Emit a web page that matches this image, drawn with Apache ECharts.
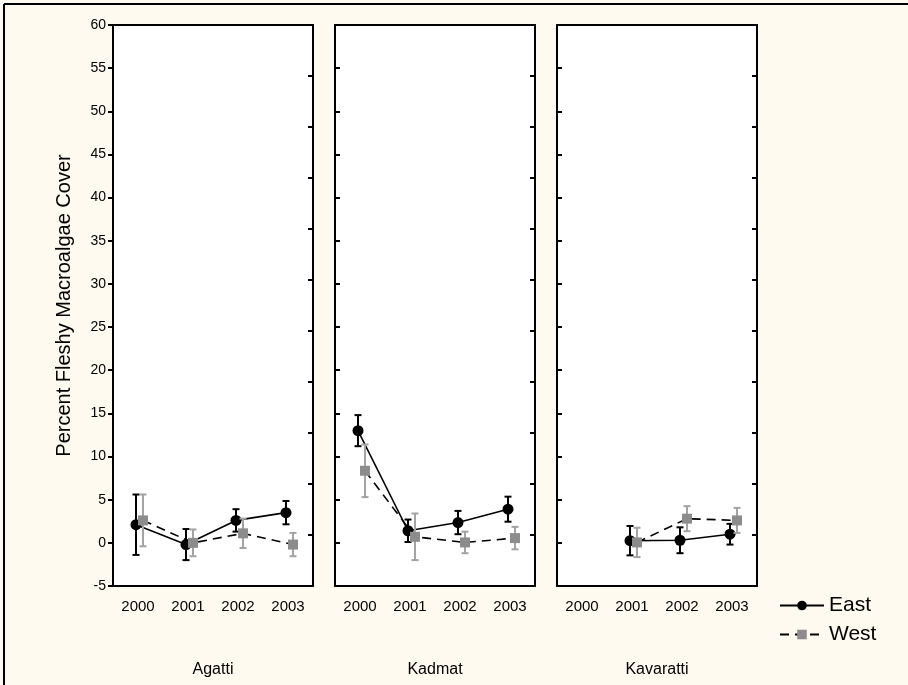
<!DOCTYPE html>
<html><head><meta charset="utf-8">
<script src="https://cdn.jsdelivr.net/npm/echarts@6/dist/echarts.min.js"></script>
<style>html,body{margin:0;padding:0;background:#fffaf0;}#c{width:908px;height:685px;}</style>
</head><body><div id="c"></div>
<script>
const years = ['2000', '2001', '2002', '2003'];
const sites = ['Agatti', 'Kadmat', 'Kavaratti'];
const yTicks = [-5, 0, 5, 10, 15, 20, 25, 30, 35, 40, 45, 50, 55, 60];

const eastAgatti = [2.1, -0.2, 2.6, 3.5];
const eastAgattiErr = [3.5, 1.8, 1.3, 1.35];
const eastKadmat = [13.0, 1.4, 2.35, 3.9];
const eastKadmatErr = [1.8, 1.3, 1.35, 1.45];
const eastKavaratti = [null, 0.25, 0.3, 1.0];
const eastKavarattiErr = [null, 1.7, 1.5, 1.2];

const westAgatti = [2.6, 0.0, 1.1, -0.2];
const westAgattiErr = [3.0, 1.55, 1.7, 1.35];
const westKadmat = [8.35, 0.7, 0.05, 0.55];
const westKadmatErr = [3.05, 2.7, 1.25, 1.3];
const westKavaratti = [null, 0.05, 2.8, 2.6];
const westKavarattiErr = [null, 1.7, 1.45, 1.45];

const eastMeans = [eastAgatti, eastKadmat, eastKavaratti];
const eastErrs = [eastAgattiErr, eastKadmatErr, eastKavarattiErr];
const westMeans = [westAgatti, westKadmat, westKavaratti];
const westErrs = [westAgattiErr, westKadmatErr, westKavarattiErr];

const FONT = '"Liberation Sans", Arial, sans-serif';
const chart = echarts.init(document.getElementById('c'));

const grids = [], xAxes = [], yAxes = [], series = [];
const PANEL_LEFT = 113, PANEL_STEP = 222, PANEL_W = 200, TOP = 25, H = 561;
const yMin = yTicks[0], yMax = yTicks[yTicks.length - 1];

function errRender(color) {
  return function (params, api) {
    const x = api.value(0), lo = api.value(1), hi = api.value(2);
    const a = api.coord([x, hi]), b = api.coord([x, lo]);
    const w = 3.5;
    const st = { stroke: color, lineWidth: 2 };
    return { type: 'group', children: [
      { type: 'line', shape: { x1: a[0], y1: a[1], x2: b[0], y2: b[1] }, style: st },
      { type: 'line', shape: { x1: a[0] - w, y1: a[1], x2: a[0] + w, y2: a[1] }, style: st },
      { type: 'line', shape: { x1: b[0] - w, y1: b[1], x2: b[0] + w, y2: b[1] }, style: st }
    ] };
  };
}

sites.forEach((site, p) => {
  const L = PANEL_LEFT + PANEL_STEP * p;
  const gAx = grids.length;
  grids.push({ left: L, top: TOP, width: PANEL_W, height: H, show: true, backgroundColor: '#ffffff', borderWidth: 0 });
  const lineSt = { color: '#000', width: 2 };
  xAxes.push({
    gridIndex: gAx, type: 'category', data: years, position: 'bottom', boundaryGap: true,
    axisLine: { onZero: false, lineStyle: lineSt }, axisTick: { inside: true, length: 5, alignWithLabel: true, lineStyle: lineSt },
    axisLabel: { fontFamily: FONT, fontSize: 15, color: '#000', margin: 13 },
    name: site, nameLocation: 'middle', nameGap: 76,
    nameTextStyle: { fontFamily: FONT, fontSize: 16, color: '#000' }
  });
  xAxes.push({
    gridIndex: gAx, type: 'category', data: years, position: 'top', boundaryGap: true,
    axisLine: { onZero: false, lineStyle: lineSt }, axisTick: { inside: true, length: 5, alignWithLabel: true, lineStyle: lineSt },
    axisLabel: { show: false }
  });
  yAxes.push({
    gridIndex: gAx, type: 'value', position: 'left', min: yMin, max: yMax, interval: 5,
    axisLine: { show: true, onZero: false, lineStyle: lineSt },
    axisTick: { show: true, inside: p !== 0, length: 5, lineStyle: lineSt },
    axisLabel: { show: p === 0, fontFamily: FONT, fontSize: 14, color: '#000', margin: 7 },
    splitLine: { show: false },
    name: p === 0 ? 'Percent Fleshy Macroalgae Cover' : '', nameLocation: 'middle', nameGap: 39,
    nameTextStyle: { fontFamily: FONT, fontSize: 20, color: '#000' }
  });
  yAxes.push({
    gridIndex: gAx, type: 'value', position: 'right', min: 0, max: 11, interval: 1,
    axisLine: { show: true, onZero: false, lineStyle: lineSt },
    axisTick: { show: true, inside: true, length: 5, lineStyle: lineSt },
    axisLabel: { show: false }, splitLine: { show: false }
  });
  [[-2, 'East'], [5, 'West']].forEach(([dx, name]) => {
    const g = grids.length;
    grids.push({ left: L + dx, top: TOP, width: PANEL_W, height: H, show: false });
    const xi = xAxes.length, yi = yAxes.length;
    xAxes.push({ gridIndex: g, type: 'category', data: years, boundaryGap: true, show: false });
    yAxes.push({ gridIndex: g, type: 'value', min: yMin, max: yMax, show: false, splitLine: { show: false } });
    const isEast = name === 'East';
    const means = isEast ? eastMeans[p] : westMeans[p];
    const errs = isEast ? eastErrs[p] : westErrs[p];
    const errData = [];
    means.forEach((m, i) => { if (m !== null) errData.push([i, m - errs[i], m + errs[i]]); });
    series.push({
      type: 'custom', xAxisIndex: xi, yAxisIndex: yi, data: errData,
      renderItem: errRender(isEast ? '#000000' : '#a3a3a3'), z: isEast ? 3 : 6, silent: true
    });
    series.push({
      name: name, type: 'line', xAxisIndex: xi, yAxisIndex: yi, data: means,
      connectNulls: false, symbol: isEast ? 'circle' : 'rect', symbolSize: isEast ? 11 : 10,
      itemStyle: { color: isEast ? '#000000' : '#8c8c8c' },
      lineStyle: { color: '#000', width: 1.6, type: isEast ? 'solid' : [9, 6] },
      z: isEast ? 4 : 7, animation: false, silent: true
    });
  });
});

chart.setOption({
  backgroundColor: '#fffaf0',
  animation: false,
  grid: grids, xAxis: xAxes, yAxis: yAxes, series: series,
  legend: {
    data: ['East', 'West'], orient: 'vertical', left: 774, top: 590,
    itemWidth: 44, itemHeight: 12, itemGap: 8,
    textStyle: { fontFamily: FONT, fontSize: 21, color: '#000' }
  },
  graphic: [
    { type: 'line', shape: { x1: 4, y1: 4, x2: 908, y2: 4 }, style: { stroke: '#000', lineWidth: 2 } },
    { type: 'line', shape: { x1: 4, y1: 4, x2: 4, y2: 685 }, style: { stroke: '#000', lineWidth: 2 } }
  ]
});
</script></body></html>
